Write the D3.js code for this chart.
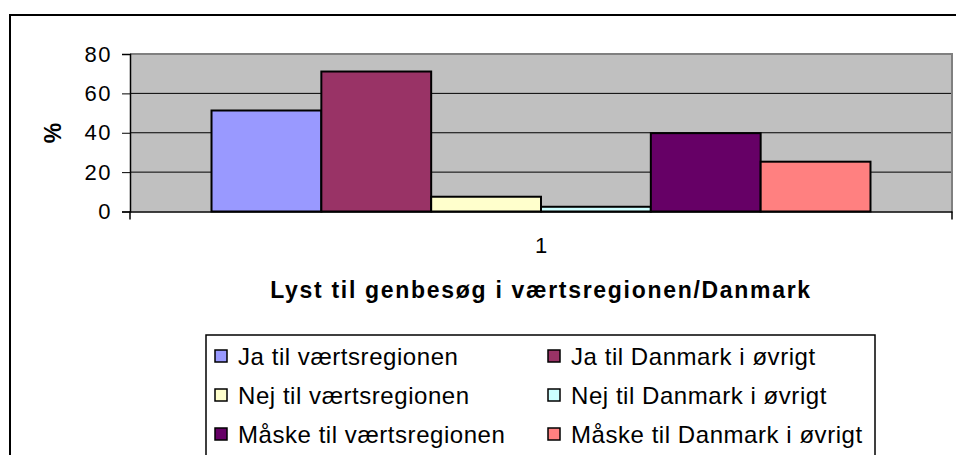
<!DOCTYPE html>
<html>
<head>
<meta charset="utf-8">
<script src="https://cdn.jsdelivr.net/npm/d3@7/dist/d3.min.js"></script>
<style>
  body { margin: 0; background: #fff; }
  svg { display: block; font-family: "Liberation Sans", Arial, sans-serif; }
</style>
</head>
<body>
<svg width="956" height="455"></svg>
<script>
const categories = ['1'];
const seriesNames = [
  'Ja til værtsregionen', 'Ja til Danmark i øvrigt',
  'Nej til værtsregionen', 'Nej til Danmark i øvrigt',
  'Måske til værtsregionen', 'Måske til Danmark i øvrigt'
];
const seriesValues = [51.3, 71.1, 7.5, 2.4, 39.8, 25.3];
const seriesColors = ['#9999ff', '#993366', '#ffffcc', '#ccffff', '#660066', '#ff8080'];
const yTicks = [0, 20, 40, 60, 80];

const plot = { left: 130, right: 952, top: 54, bottom: 211.5 };
const font = '"Liberation Sans", Arial, sans-serif';

const svg = d3.select('svg');

// outer chart frame
svg.append('rect')
  .attr('x', 10).attr('y', 15).attr('width', 960).attr('height', 480)
  .attr('fill', '#fff').attr('stroke', '#000').attr('stroke-width', 2);

const x = d3.scaleBand().domain(categories).range([plot.left, plot.right]).paddingOuter(0.1237).paddingInner(0);
const xs = d3.scaleBand().domain(seriesNames).range([0, x.bandwidth()]);
const y = d3.scaleLinear().domain([0, 80]).range([plot.bottom, plot.top]);

// plot background
svg.append('rect')
  .attr('x', plot.left).attr('y', plot.top)
  .attr('width', plot.right - plot.left).attr('height', plot.bottom - plot.top)
  .attr('fill', '#c0c0c0');

// gridlines
svg.append('g').selectAll('line')
  .data(yTicks.filter(d => d > 0 && d < 80))
  .enter().append('line')
  .attr('x1', plot.left).attr('x2', plot.right)
  .attr('y1', d => y(d)).attr('y2', d => y(d))
  .attr('stroke', '#000').attr('stroke-width', 1);

// plot border top/right
svg.append('path')
  .attr('d', `M${plot.left},${plot.top}H${plot.right}V${plot.bottom}`)
  .attr('fill', 'none').attr('stroke', '#808080').attr('stroke-width', 2);

// bars
svg.append('g').selectAll('rect')
  .data(seriesValues)
  .enter().append('rect')
  .attr('x', (d, i) => x(categories[0]) + xs(seriesNames[i]))
  .attr('y', d => y(d))
  .attr('width', xs.bandwidth())
  .attr('height', d => y(0) - y(d))
  .attr('fill', (d, i) => seriesColors[i])
  .attr('stroke', '#000').attr('stroke-width', 2);

// y axis
const yAxis = svg.append('g')
  .attr('transform', `translate(${plot.left},0)`)
  .call(d3.axisLeft(y).tickValues(yTicks).tickSize(8).tickPadding(10));
yAxis.select('.domain').attr('stroke', '#000').attr('stroke-width', 1.5);
yAxis.selectAll('.tick line').attr('stroke', '#000');
yAxis.selectAll('text').attr('font-size', 22).attr('fill', '#000')
  .attr('font-family', font).attr('letter-spacing', 1.5);

// x axis
const xAxis = svg.append('g')
  .attr('transform', `translate(0,${plot.bottom})`)
  .call(d3.axisBottom(x).tickSize(0).tickPadding(0));
xAxis.select('.domain').attr('stroke', '#000').attr('stroke-width', 1.5);
xAxis.selectAll('text').attr('font-size', 22).attr('fill', '#000')
  .attr('font-family', font).attr('dy', null).attr('y', 41.5);
// category boundary ticks
xAxis.selectAll('.bound')
  .data([plot.left, plot.right])
  .enter().append('line')
  .attr('x1', d => d).attr('x2', d => d)
  .attr('y1', 0).attr('y2', 8)
  .attr('stroke', '#000').attr('stroke-width', 1.5);

// axis titles
svg.append('text')
  .attr('x', (plot.left + plot.right) / 2).attr('y', 298)
  .attr('text-anchor', 'middle').attr('font-size', 23).attr('font-weight', 'bold')
  .attr('letter-spacing', 1.7)
  .text('Lyst til genbesøg i værtsregionen/Danmark');

svg.append('text')
  .attr('transform', 'translate(61,133) rotate(-90)')
  .attr('text-anchor', 'middle').attr('font-size', 23).attr('font-weight', 'bold')
  .text('%');

// legend
const legend = svg.append('g');
legend.append('rect')
  .attr('x', 206).attr('y', 335).attr('width', 669).attr('height', 140)
  .attr('fill', '#fff').attr('stroke', '#000').attr('stroke-width', 1.5);

const colX = [215, 548];
const rowY = [356, 395, 434];
const items = legend.selectAll('.item')
  .data(seriesNames)
  .enter().append('g')
  .attr('transform', (d, i) => `translate(${colX[i % 2]},${rowY[Math.floor(i / 2)]})`);
items.append('rect')
  .attr('x', 0).attr('y', -6).attr('width', 12).attr('height', 12)
  .attr('fill', (d, i) => seriesColors[i])
  .attr('stroke', '#000').attr('stroke-width', 1.5);
items.append('text')
  .attr('x', 23).attr('y', 9)
  .attr('font-size', 24).attr('letter-spacing', 0.55)
  .text(d => d);
</script>
</body>
</html>
